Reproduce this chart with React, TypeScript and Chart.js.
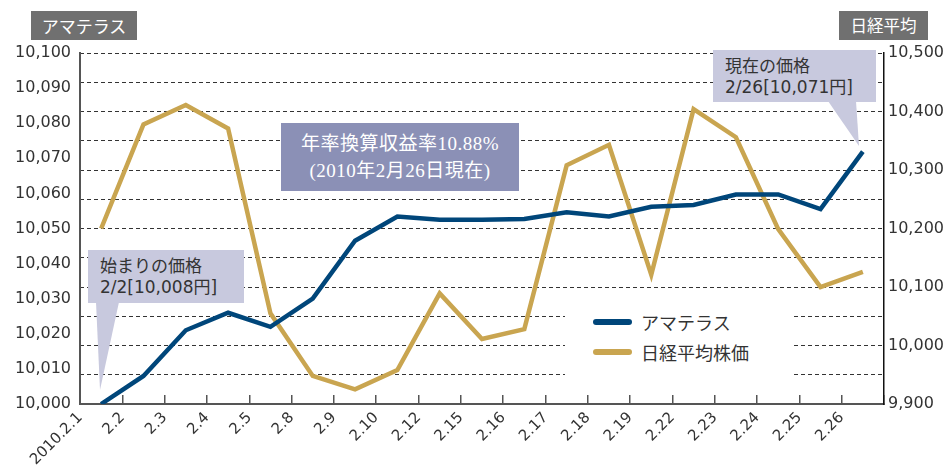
import React, { useEffect, useRef } from "react";
import { Chart, registerables } from "chart.js";

Chart.register(...registerables);

const labels = ["2010.2.1", "2.2", "2.3", "2.4", "2.5", "2.8", "2.9", "2.10", "2.12", "2.15", "2.16", "2.17", "2.18", "2.19", "2.22", "2.23", "2.24", "2.25", "2.26"];
const amaterasu = [10000, 10008, 10021, 10026, 10022, 10030, 10046.5, 10053.4, 10052.5, 10052.5, 10052.7, 10054.6, 10053.4, 10056.2, 10056.7, 10059.7, 10059.7, 10055.5, 10071.9];
const nikkei = [10200, 10378, 10411, 10371, 10055, 9948, 9925, 9958, 10089, 10011, 10028, 10308, 10343, 10121, 10404, 10356, 10199, 10100, 10126];
const leftMin = 10000;
const leftMax = 10100;
const leftStep = 10;
const rightMin = 9900;
const rightMax = 10500;
const rightGridStep = 50;
const rightLabelStep = 100;

const BLUE = "#00467a";
const GOLD = "#c9a550";
const LAVENDER = "#c8c9de";
const SLATE = "#8b90b6";
const TITLEGRAY = "#707070";
const TEXT = "#333333";

const fmt = (v: number) => Math.round(v).toLocaleString("en-US");
const CJK = "'Noto Sans CJK JP', sans-serif";
const NUM = "'DejaVu Sans', 'Noto Sans CJK JP', sans-serif";

export default function App() {
  const ref = useRef<HTMLCanvasElement | null>(null);
  useEffect(() => {
    document.body.style.margin = "0";
    const canvas = ref.current;
    if (!canvas) return;
    const tickFont = { family: "'DejaVu Sans', sans-serif", size: 16 };
    const chart = new Chart(canvas, {
      type: "line",
      data: {
        labels,
        datasets: [
          {
            label: "アマテラス",
            data: amaterasu,
            yAxisID: "y",
            borderColor: BLUE,
            backgroundColor: BLUE,
            borderWidth: 4.5,
            pointRadius: 0,
            tension: 0,
          },
          {
            label: "日経平均株価",
            data: nikkei,
            yAxisID: "y1",
            borderColor: GOLD,
            backgroundColor: GOLD,
            borderWidth: 4.5,
            pointRadius: 0,
            tension: 0,
          },
        ],
      },
      options: {
        animation: false,
        responsive: false,
        layout: { padding: { top: 53, left: 0, right: 0, bottom: 0 } },
        plugins: { legend: { display: false }, tooltip: { enabled: false } },
        scales: {
          x: {
            type: "category",
            offset: true,
            grid: {
              offset: true,
              drawOnChartArea: false,
              drawTicks: true,
              tickLength: -9,
              color: "#555",
              lineWidth: 1.5,
            },
            border: { color: "#555", width: 2 },
            ticks: {
              autoSkip: false,
              minRotation: 45,
              maxRotation: 45,
              labelOffset: -21,
              padding: 14,
              color: TEXT,
              font: { family: "'DejaVu Sans', sans-serif", size: 15 },
            },
            afterFit: (s: any) => {
              s.height = 66;
            },
          },
          y: {
            position: "left",
            min: leftMin,
            max: leftMax,
            ticks: {
              stepSize: leftStep,
              padding: 9,
              color: TEXT,
              font: tickFont,
              callback: (v: any) => fmt(Number(v)),
            },
            grid: { drawOnChartArea: false, drawTicks: false },
            border: { color: "#555", width: 2 },
            afterFit: (s: any) => {
              s.width = 80;
            },
          },
          y1: {
            position: "right",
            min: rightMin,
            max: rightMax,
            ticks: {
              stepSize: rightGridStep,
              padding: 4,
              color: TEXT,
              font: tickFont,
              callback: (v: any) => (Number(v) % rightLabelStep === 0 ? fmt(Number(v)) : ""),
            },
            grid: { drawOnChartArea: true, drawTicks: false, color: "#333", lineWidth: 1 },
            border: { color: "#111", width: 1.5, dash: [4, 3] },
            afterFit: (s: any) => {
              s.width = 62;
            },
          },
        },
      },
    });
    return () => chart.destroy();
  }, []);

  const abs = (o: React.CSSProperties): React.CSSProperties => ({ position: "absolute", boxSizing: "border-box", ...o });

  return (
    <div style={{ position: "relative", width: 946, height: 470, background: "#fff", overflow: "hidden" }}>
      <canvas ref={ref} width={946} height={470} style={{ position: "absolute", left: 0, top: 0, width: 946, height: 470 }} />
      <svg width={946} height={470} style={{ position: "absolute", left: 0, top: 0, pointerEvents: "none" }}>
        <polygon points="96,302 119,302 100,390" fill={LAVENDER} />
        <polygon points="828,101 856,101 859,146" fill={LAVENDER} />
      </svg>
      {/* axis titles */}
      <div style={abs({ left: 31, top: 11, width: 106, height: 29, background: TITLEGRAY, color: "#fff", fontFamily: CJK, fontSize: 17, lineHeight: "29px", textAlign: "center" })}>アマテラス</div>
      <div style={abs({ left: 839, top: 11, width: 89, height: 29, background: TITLEGRAY, color: "#fff", fontFamily: CJK, fontSize: 16.5, lineHeight: "29px", textAlign: "center" })}>日経平均</div>
      {/* return box */}
      <div style={abs({ left: 281, top: 123, width: 238, height: 68, background: SLATE, color: "#fff", fontFamily: "'Liberation Serif', 'Noto Sans CJK JP', serif", fontSize: 19, lineHeight: "27px", textAlign: "center", paddingTop: 7, letterSpacing: 0.5 })}>
        <div>年率換算収益率10.88%</div>
        <div>(2010年2月26日現在)</div>
      </div>
      {/* start price */}
      <div style={abs({ left: 88, top: 250, width: 156, height: 53, background: LAVENDER, color: TEXT, fontFamily: NUM, fontSize: 17, lineHeight: "23px", paddingLeft: 12, paddingTop: 3, whiteSpace: "nowrap" })}>
        <div style={{ fontFamily: CJK }}>始まりの価格</div>
        <div>2/2[10,008円]</div>
      </div>
      {/* current price */}
      <div style={abs({ left: 713, top: 50, width: 163, height: 52, background: LAVENDER, color: TEXT, fontFamily: NUM, fontSize: 17, lineHeight: "22px", paddingLeft: 12, paddingTop: 4, whiteSpace: "nowrap" })}>
        <div style={{ fontFamily: CJK }}>現在の価格</div>
        <div>2/26[10,071円]</div>
      </div>
      {/* legend */}
      <div style={abs({ left: 565, top: 298, width: 227, height: 92, background: "#fff" })}>
        <div style={abs({ left: 28, top: 21, width: 39, height: 6, borderRadius: 3, background: BLUE })} />
        <div style={abs({ left: 76, top: 11, fontFamily: CJK, fontSize: 18, lineHeight: "26px", color: TEXT, whiteSpace: "nowrap" })}>アマテラス</div>
        <div style={abs({ left: 28, top: 51, width: 39, height: 6, borderRadius: 3, background: GOLD })} />
        <div style={abs({ left: 76, top: 41, fontFamily: CJK, fontSize: 18, lineHeight: "26px", color: TEXT, whiteSpace: "nowrap" })}>日経平均株価</div>
      </div>
    </div>
  );
}
